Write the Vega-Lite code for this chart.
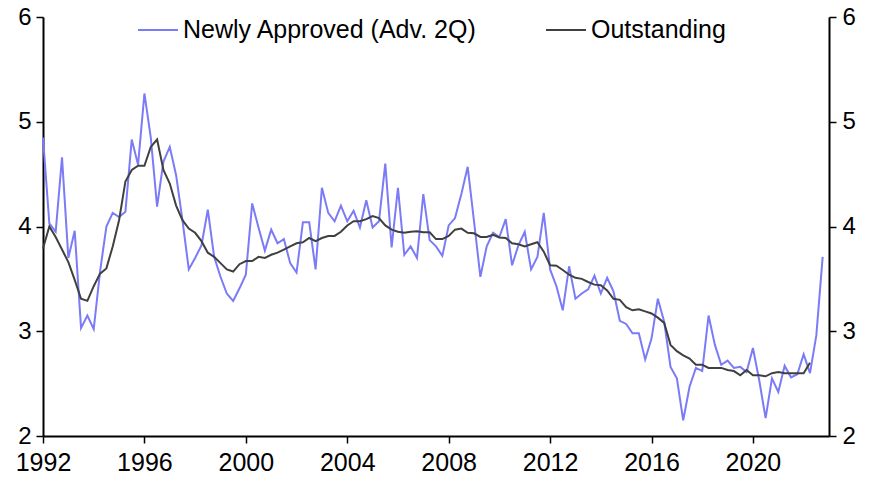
{
  "$schema": "https://vega.github.io/schema/vega-lite/v6.json",
  "width": 786,
  "height": 419,
  "autosize": "none",
  "padding": {"left": 43, "top": 17, "right": 42, "bottom": 43},
  "background": "white",
  "config": {
    "view": {"stroke": null},
    "font": "Liberation Sans",
    "axis": {
      "grid": false,
      "domainColor": "#000000",
      "domainWidth": 2,
      "tickColor": "#000000",
      "tickWidth": 1.5,
      "tickSize": 7,
      "labelFont": "Liberation Sans",
      "labelFontSize": 25,
      "labelColor": "#000000",
      "labelFlush": false,
      "labelOverlap": false,
      "title": null
    }
  },
  "data": {
    "values": [
      {"t": 1992.0, "a": 4.85, "o": 3.79},
      {"t": 1992.25, "a": 4.03, "o": 4.0},
      {"t": 1992.5, "a": 3.95, "o": 3.9},
      {"t": 1992.75, "a": 4.66, "o": 3.78},
      {"t": 1993.0, "a": 3.7, "o": 3.66},
      {"t": 1993.25, "a": 3.96, "o": 3.49},
      {"t": 1993.5, "a": 3.03, "o": 3.31},
      {"t": 1993.75, "a": 3.15, "o": 3.29},
      {"t": 1994.0, "a": 3.02, "o": 3.43},
      {"t": 1994.25, "a": 3.57, "o": 3.55},
      {"t": 1994.5, "a": 4.0, "o": 3.6},
      {"t": 1994.75, "a": 4.13, "o": 3.81},
      {"t": 1995.0, "a": 4.09, "o": 4.06},
      {"t": 1995.25, "a": 4.14, "o": 4.43},
      {"t": 1995.5, "a": 4.83, "o": 4.54},
      {"t": 1995.75, "a": 4.59, "o": 4.58},
      {"t": 1996.0, "a": 5.27, "o": 4.58},
      {"t": 1996.25, "a": 4.85, "o": 4.76},
      {"t": 1996.5, "a": 4.19, "o": 4.83},
      {"t": 1996.75, "a": 4.62, "o": 4.54},
      {"t": 1997.0, "a": 4.76, "o": 4.41},
      {"t": 1997.25, "a": 4.49, "o": 4.2},
      {"t": 1997.5, "a": 4.06, "o": 4.06},
      {"t": 1997.75, "a": 3.59, "o": 3.98},
      {"t": 1998.0, "a": 3.7, "o": 3.94},
      {"t": 1998.25, "a": 3.82, "o": 3.86},
      {"t": 1998.5, "a": 4.16, "o": 3.75},
      {"t": 1998.75, "a": 3.71, "o": 3.71},
      {"t": 1999.0, "a": 3.52, "o": 3.65},
      {"t": 1999.25, "a": 3.36, "o": 3.59},
      {"t": 1999.5, "a": 3.29, "o": 3.57},
      {"t": 1999.75, "a": 3.41, "o": 3.64},
      {"t": 2000.0, "a": 3.54, "o": 3.67},
      {"t": 2000.25, "a": 4.22, "o": 3.67},
      {"t": 2000.5, "a": 3.99, "o": 3.71},
      {"t": 2000.75, "a": 3.77, "o": 3.7},
      {"t": 2001.0, "a": 3.97, "o": 3.73},
      {"t": 2001.25, "a": 3.84, "o": 3.75},
      {"t": 2001.5, "a": 3.88, "o": 3.78},
      {"t": 2001.75, "a": 3.65, "o": 3.81},
      {"t": 2002.0, "a": 3.56, "o": 3.84},
      {"t": 2002.25, "a": 4.04, "o": 3.85},
      {"t": 2002.5, "a": 4.04, "o": 3.89},
      {"t": 2002.75, "a": 3.59, "o": 3.86},
      {"t": 2003.0, "a": 4.37, "o": 3.89},
      {"t": 2003.25, "a": 4.13, "o": 3.91},
      {"t": 2003.5, "a": 4.05, "o": 3.91},
      {"t": 2003.75, "a": 4.2, "o": 3.95},
      {"t": 2004.0, "a": 4.05, "o": 4.01},
      {"t": 2004.25, "a": 4.15, "o": 4.05},
      {"t": 2004.5, "a": 3.99, "o": 4.05},
      {"t": 2004.75, "a": 4.25, "o": 4.07},
      {"t": 2005.0, "a": 3.99, "o": 4.1},
      {"t": 2005.25, "a": 4.05, "o": 4.08},
      {"t": 2005.5, "a": 4.6, "o": 4.01},
      {"t": 2005.75, "a": 3.8, "o": 3.97},
      {"t": 2006.0, "a": 4.37, "o": 3.95},
      {"t": 2006.25, "a": 3.73, "o": 3.94},
      {"t": 2006.5, "a": 3.81, "o": 3.95},
      {"t": 2006.75, "a": 3.7, "o": 3.955},
      {"t": 2007.0, "a": 4.31, "o": 3.945},
      {"t": 2007.25, "a": 3.87, "o": 3.945},
      {"t": 2007.5, "a": 3.81, "o": 3.88},
      {"t": 2007.75, "a": 3.72, "o": 3.88},
      {"t": 2008.0, "a": 4.01, "o": 3.91},
      {"t": 2008.25, "a": 4.08, "o": 3.97},
      {"t": 2008.5, "a": 4.31, "o": 3.98},
      {"t": 2008.75, "a": 4.57, "o": 3.94},
      {"t": 2009.0, "a": 4.05, "o": 3.935},
      {"t": 2009.25, "a": 3.52, "o": 3.9},
      {"t": 2009.5, "a": 3.81, "o": 3.9},
      {"t": 2009.75, "a": 3.94, "o": 3.92},
      {"t": 2010.0, "a": 3.9, "o": 3.895},
      {"t": 2010.25, "a": 4.07, "o": 3.89},
      {"t": 2010.5, "a": 3.63, "o": 3.84},
      {"t": 2010.75, "a": 3.82, "o": 3.83},
      {"t": 2011.0, "a": 3.95, "o": 3.81},
      {"t": 2011.25, "a": 3.59, "o": 3.83},
      {"t": 2011.5, "a": 3.71, "o": 3.85},
      {"t": 2011.75, "a": 4.13, "o": 3.76},
      {"t": 2012.0, "a": 3.59, "o": 3.63},
      {"t": 2012.25, "a": 3.43, "o": 3.625},
      {"t": 2012.5, "a": 3.2, "o": 3.585},
      {"t": 2012.75, "a": 3.62, "o": 3.54},
      {"t": 2013.0, "a": 3.31, "o": 3.51},
      {"t": 2013.25, "a": 3.36, "o": 3.5},
      {"t": 2013.5, "a": 3.4, "o": 3.47},
      {"t": 2013.75, "a": 3.53, "o": 3.445},
      {"t": 2014.0, "a": 3.36, "o": 3.44},
      {"t": 2014.25, "a": 3.51, "o": 3.39},
      {"t": 2014.5, "a": 3.38, "o": 3.31},
      {"t": 2014.75, "a": 3.1, "o": 3.3},
      {"t": 2015.0, "a": 3.07, "o": 3.23},
      {"t": 2015.25, "a": 2.98, "o": 3.2},
      {"t": 2015.5, "a": 2.98, "o": 3.21},
      {"t": 2015.75, "a": 2.73, "o": 3.19},
      {"t": 2016.0, "a": 2.93, "o": 3.17},
      {"t": 2016.25, "a": 3.31, "o": 3.13},
      {"t": 2016.5, "a": 3.09, "o": 3.08},
      {"t": 2016.75, "a": 2.66, "o": 2.87},
      {"t": 2017.0, "a": 2.55, "o": 2.81},
      {"t": 2017.25, "a": 2.15, "o": 2.77},
      {"t": 2017.5, "a": 2.47, "o": 2.74},
      {"t": 2017.75, "a": 2.65, "o": 2.68},
      {"t": 2018.0, "a": 2.62, "o": 2.68},
      {"t": 2018.25, "a": 3.15, "o": 2.65},
      {"t": 2018.5, "a": 2.87, "o": 2.65},
      {"t": 2018.75, "a": 2.68, "o": 2.65},
      {"t": 2019.0, "a": 2.72, "o": 2.63},
      {"t": 2019.25, "a": 2.65, "o": 2.62},
      {"t": 2019.5, "a": 2.66, "o": 2.58},
      {"t": 2019.75, "a": 2.61, "o": 2.63},
      {"t": 2020.0, "a": 2.84, "o": 2.58},
      {"t": 2020.25, "a": 2.53, "o": 2.58},
      {"t": 2020.5, "a": 2.17, "o": 2.57},
      {"t": 2020.75, "a": 2.55, "o": 2.6},
      {"t": 2021.0, "a": 2.42, "o": 2.61},
      {"t": 2021.25, "a": 2.67, "o": 2.6},
      {"t": 2021.5, "a": 2.56, "o": 2.6},
      {"t": 2021.75, "a": 2.59, "o": 2.6},
      {"t": 2022.0, "a": 2.78, "o": 2.6},
      {"t": 2022.25, "a": 2.6, "o": 2.7},
      {"t": 2022.5, "a": 2.96, "o": null},
      {"t": 2022.75, "a": 3.71, "o": null}
    ]
  },
  "layer": [
    {
      "mark": {"type": "line", "strokeWidth": 2},
      "encoding": {
        "x": {
          "field": "t",
          "type": "quantitative",
          "scale": {"domain": [1992, 2023], "nice": false, "zero": false},
          "axis": {"values": [1992, 1996, 2000, 2004, 2008, 2012, 2016, 2020], "format": "d", "labelPadding": 7}
        },
        "y": {
          "field": "a",
          "type": "quantitative",
          "scale": {"domain": [2, 6], "nice": false, "zero": false},
          "axis": {"orient": "left", "values": [2, 3, 4, 5, 6], "labelPadding": 5, "labelFontSize": 24}
        },
        "color": {
          "datum": "Newly Approved (Adv. 2Q)",
          "type": "nominal",
          "scale": {"domain": ["Newly Approved (Adv. 2Q)", "Outstanding"], "range": ["#7b7bf7", "#404040"]},
          "legend": {
            "title": null,
            "orient": "none",
            "legendX": 94,
            "legendY": -8,
            "direction": "horizontal",
            "symbolType": "stroke",
            "symbolSize": 1600,
            "symbolStrokeWidth": 2,
            "labelFontSize": 25,
            "labelFont": "Liberation Sans",
            "labelColor": "#000000",
            "labelOffset": 4,
            "columnPadding": 64,
            "padding": 0,
            "labelLimit": 400
          }
        }
      }
    },
    {
      "mark": {"type": "line", "strokeWidth": 2},
      "encoding": {
        "x": {"field": "t", "type": "quantitative"},
        "y": {
          "field": "o",
          "type": "quantitative",
          "axis": {"orient": "right", "values": [2, 3, 4, 5, 6], "labelPadding": 6, "labelFontSize": 24}
        },
        "color": {"datum": "Outstanding", "type": "nominal"}
      }
    }
  ],
  "resolve": {"axis": {"y": "independent"}}
}
